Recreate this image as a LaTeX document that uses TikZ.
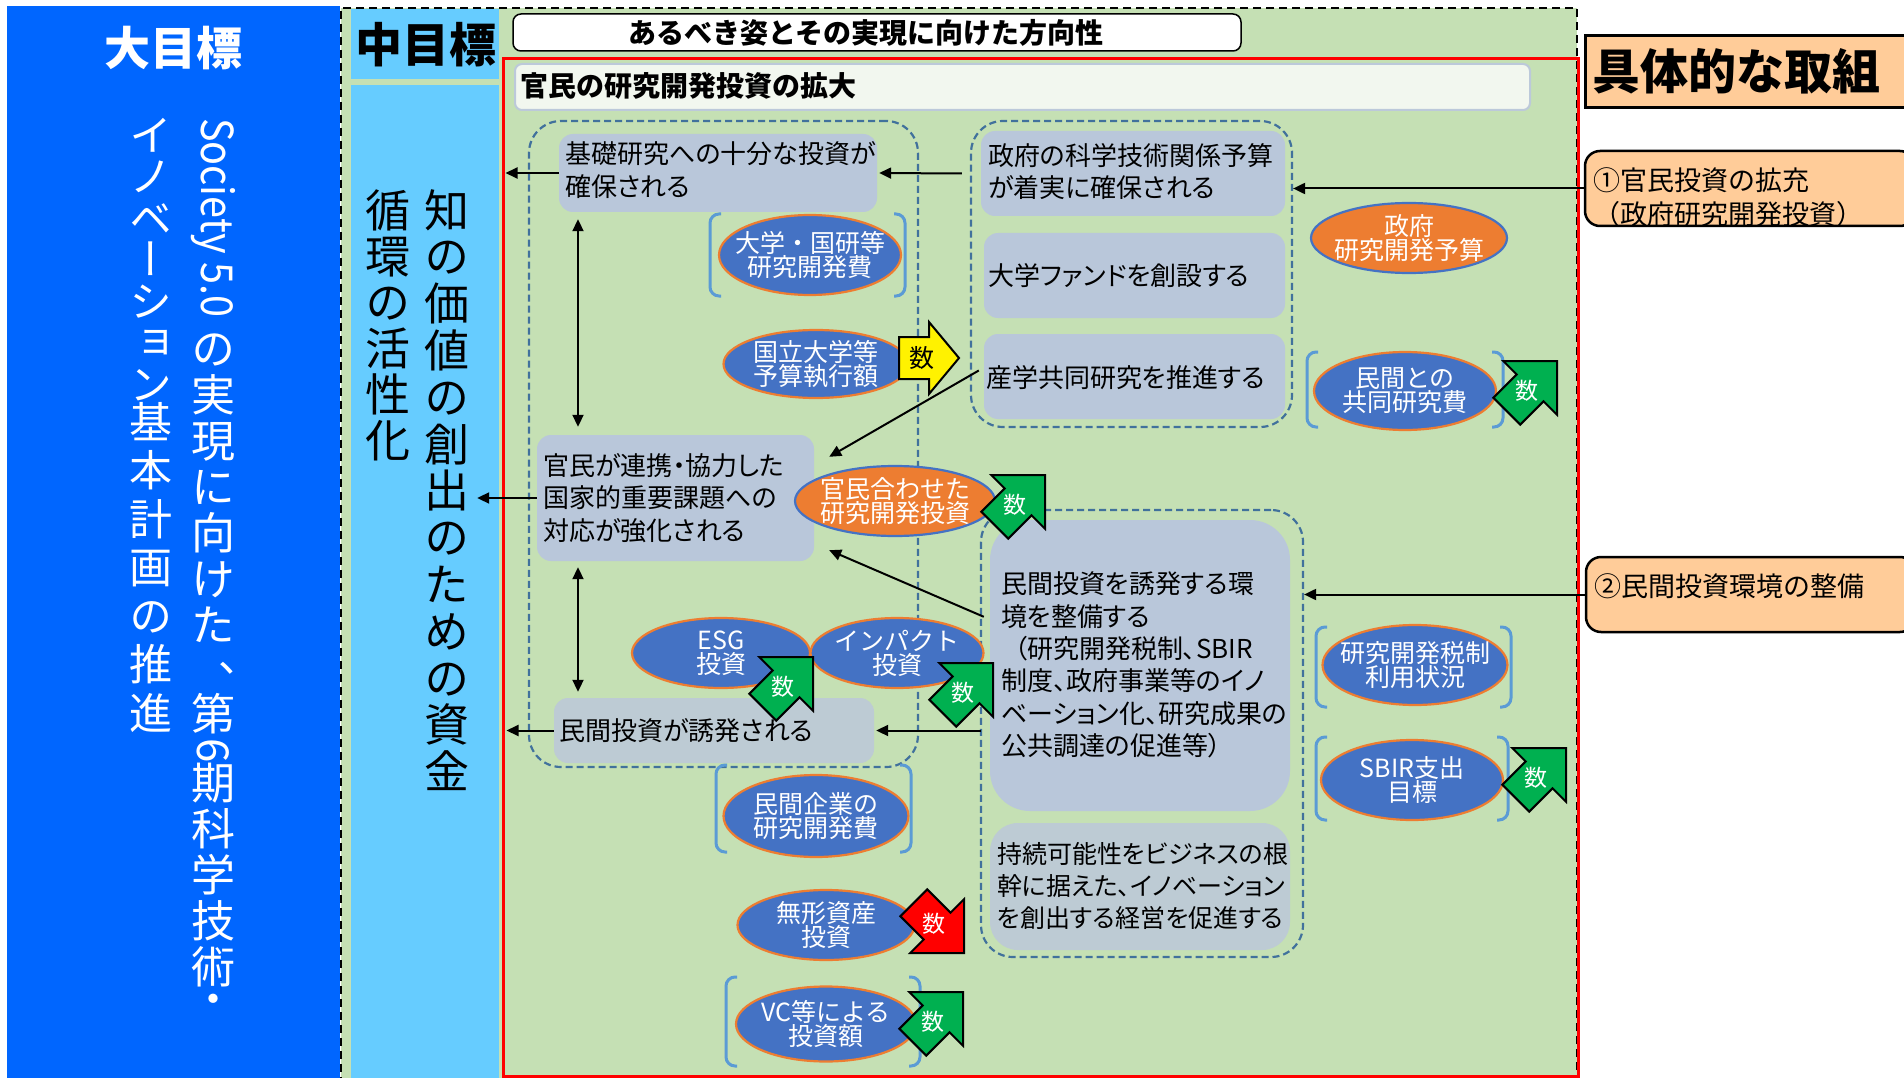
\documentclass[tikz,border=0pt]{standalone}
\usepackage{fontspec}
\setmainfont{Noto Sans CJK JP}
\newfontfamily\jpfont{Noto Sans CJK JP}
\newfontfamily\jppalt[RawFeature=+palt]{Noto Sans CJK JP}
\newfontfamily\jpvert[RawFeature=+vert]{Noto Sans CJK JP}
\usetikzlibrary{arrows.meta,fit,calc,shapes.geometric}
\definecolor{bigblue}{HTML}{0066FF}
\definecolor{ltblue}{HTML}{66CCFF}
\definecolor{bggreen}{HTML}{C5E0B4}
\definecolor{boxc}{HTML}{B9C7DA}
\definecolor{boxg}{HTML}{BDCBD4}
\definecolor{grpc}{HTML}{41719C}
\definecolor{ebl}{HTML}{4472C4}
\definecolor{eor}{HTML}{ED7D31}
\definecolor{brkc}{HTML}{5B9BD5}
\definecolor{hdrfill}{HTML}{F2F7EF}
\definecolor{hdrline}{HTML}{BCC9DA}
\definecolor{peach}{HTML}{FFCC99}
\definecolor{kgreen}{HTML}{00B050}
\tikzset{
  boxs/.style={fill=boxc, draw=none, rounded corners=14, inner sep=0},
  grp/.style={draw=grpc, line width=2.2, dash pattern=on 7pt off 4pt, rounded corners=32, inner sep=0},
  btxt/.style={font=\jppalt\fontsize{26}{32.4}\selectfont, align=left, inner sep=0, anchor=west},
  bell/.style={ellipse, fill=ebl, draw=eor, line width=2.2, inner sep=0},
  oell/.style={ellipse, fill=eor, draw=ebl, line width=2.2, inner sep=0},
  etxt/.style={font=\jpfont\fontsize{25}{24}\selectfont, align=center, inner sep=0, text=white},
  brk/.style={draw=brkc, line width=3, rounded corners=9},
  arr/.style={line width=2, -{Triangle[length=12pt,width=11pt]}},
  dbl/.style={line width=2, {Triangle[length=12pt,width=11pt]}-{Triangle[length=12pt,width=11pt]}},
  vwhite/.style={font=\jpvert\fontsize{44}{46}\selectfont, text=white, align=center, inner sep=0},
  vblack/.style={font=\jpvert\fontsize{45}{46.8}\selectfont, text=black, align=center, inner sep=0},
  peachbox/.style={fill=peach, draw=black, line width=2.5, inner sep=0},
  knum/.style={font=\jpfont\fontsize{23}{23}\selectfont, inner sep=0},
}
\newcommand\brackets[4]{%
  \draw[brk] ({#1+11},#2) -- (#1,#2) -- (#1,#4) -- ({#1+11},#4);
  \draw[brk] ({#3-11},#2) -- (#3,#2) -- (#3,#4) -- ({#3-11},#4);}
\newcommand\kazu[5]{%
  \begin{scope}[shift={#2}, rotate=#3]
    \filldraw[fill=#4, draw=black, line width=2, line join=miter] (0,0) -- (-38,38) -- (-38,19) -- (-71,19) -- (-71,-19) -- (-38,-19) -- (-38,-38) -- cycle;
    \node[knum, text=#5] (#1) at (-42,0) {数};
  \end{scope}}
\begin{document}
\begin{tikzpicture}[x=1pt,y=-1pt]
\useasboundingbox (0,0) rectangle (1904,1078);
\fill[white] (0,0) rectangle (1904,1078);
% ---- big goal panel
\node[fill=bigblue, inner sep=0, fit={(7,6) (340,1078)}] (bigpanel) {};
\node[font=\jpfont\bfseries\fontsize{46}{50}\selectfont, text=white, inner sep=0] (bigtitle) at (173,48) {大目標};
\node[font=\jpfont\fontsize{44}{46}\selectfont, text=white, rotate=-90, anchor=west, inner sep=0] (soc) at (213,118) {\scalebox{0.9}[1]{Society 5.0}};
\node[vwhite, anchor=north] (r1) at (213,334) {の\\実\\現\\に\\向\\け\\た};
\node[vwhite, anchor=north] (r2) at (213,662) {、};
\node[vwhite, anchor=north] (r3) at (213,693) {第};
\node[font=\jpfont\fontsize{44}{46}\selectfont, text=white, rotate=-90, inner sep=0] (r4) at (213,751) {6};
\node[vwhite, anchor=north] (r5) at (213,763) {期\\科\\学\\技\\術};
\node[vwhite] (r6) at (213,1005) {・};
\node[vwhite, anchor=north, font=\jpvert\fontsize{43}{41.5}\selectfont] (l1) at (151,118) {イ\\ノ\\ベ\\ー\\シ\\ョ\\ン};
\node[vwhite, anchor=north, font=\jpvert\fontsize{43}{48.5}\selectfont] (l2) at (151,402) {基\\本\\計\\画\\の\\推\\進};
% ---- middle frame
\node[fill=bggreen, draw=black, line width=2, dash pattern=on 8pt off 5pt, inner sep=0, fit={(341,8) (1577,1095)}] (midframe) {};
\node[fill=ltblue, inner sep=0, fit={(351,9) (499,79)}] (lbhead) {};
\node[fill=ltblue, inner sep=0, fit={(351,85) (499,1078)}] (lbcol) {};
\node[font=\jpfont\bfseries\fontsize{47}{50}\selectfont, inner sep=0] (midtitle) at (426,45) {中目標};
\node[vblack, anchor=north] (m1) at (447,189) {知\\の\\価\\値\\の\\創\\出\\の\\た\\め\\の\\資\\金};
\node[vblack, anchor=north, font=\jpvert\fontsize{45}{46}\selectfont] (m2) at (388,189) {循\\環\\の\\活\\性\\化};
\node[draw=black, line width=1.5, fill=white, rounded corners=8, inner sep=0, fit={(513,14) (1241,51)}] (dirbox) {};
\node[font=\jpfont\bfseries\fontsize{28}{30}\selectfont, inner sep=0] (dirtxt) at (866,33) {あるべき姿とその実現に向けた方向性};
\node[draw=red, line width=3, inner sep=0, fit={(503,59) (1578,1076)}] (redbox) {};
\node[fill=hdrfill, draw=hdrline, line width=2, rounded corners=7, inner sep=0, fit={(515,64) (1530,110)}] (hdr2) {};
\node[font=\jpfont\bfseries\fontsize{28}{30}\selectfont, inner sep=0, anchor=west] (hdr2txt) at (520,86) {官民の研究開発投資の拡大};
% ---- groups
\node[grp, fit={(529,121) (918,767)}] (grpA) {};
\node[grp, fit={(971,121) (1292,427)}] (grpB) {};
\node[grp, fit={(981,510) (1303,957)}] (grpC) {};
% ---- boxes
\node[boxs, fit={(559,134) (877,212)}] (kiso) {};
\node[btxt] (kisotxt) at (565,170) {基礎研究への十分な投資が\\確保される};
\node[boxs, fit={(981,131) (1285,216)}] (seifu) {};
\node[btxt] (seifutxt) at (988,171.5) {政府の科学技術関係予算\\が着実に確保される};
\node[boxs, fit={(984,233) (1285,318)}] (fund) {};
\node[btxt] (fundtxt) at (988,276) {大学ファンドを創設する};
\node[boxs, fit={(984,334) (1285,419)}] (sangaku) {};
\node[btxt] (sangakutxt) at (986,378) {産学共同研究を推進する};
\node[boxs, fit={(537,435) (814,561)}] (kanmin) {};
\node[btxt] (kanmintxt) at (543,498) {官民が連携・協力した\\国家的重要課題への\\対応が強化される};
\node[boxs, fill=boxg, fit={(554,698) (874,763)}] (yuhatsu) {};
\node[btxt] (yuhatsutxt) at (559,731) {民間投資が誘発される};
\node[boxs, rounded corners=40, fit={(990,520) (1290,811)}] (env) {};
\node[btxt] (envtxt) at (1001,665) {民間投資を誘発する環\\境を整備する\\\hspace*{13pt}（研究開発税制、SBIR\\制度、政府事業等のイノ\\ベーション化、研究成果の\\公共調達の促進等）};
\node[boxs, fill=boxg, rounded corners=28, fit={(990,823) (1290,950)}] (jizoku) {};
\node[btxt, font=\jppalt\fontsize{25}{32}\selectfont] (jizokutxt) at (997,886) {持続可能性をビジネスの根\\幹に据えた、イノベーション\\を創出する経営を促進する};
% ---- ellipses
\node[bell, minimum width=182, minimum height=80] (eDai) at (810,255) {};
\node[etxt] at (eDai) {大学・国研等\\研究開発費};
\brackets{710}{214}{905}{296}
\node[bell, minimum width=185, minimum height=68] (eKoku) at (816,364) {};
\node[etxt] at (eKoku) {国立大学等\\予算執行額};
\begin{scope}[shift={(959,358)}]
  \filldraw[fill=yellow, draw=black, line width=2, line join=miter] (0,0) -- (-30,-36) -- (-30,-21) -- (-60,-21) -- (-60,21) -- (-30,21) -- (-30,36) -- cycle;
  \node[font=\jpfont\fontsize{25}{25}\selectfont, inner sep=0] (kY) at (-37,0) {数};
\end{scope}
\node[oell, minimum width=200, minimum height=70] (eKanmin) at (895,501) {};
\node[etxt] at (eKanmin) {官民合わせた\\研究開発投資};
\kazu{k1}{(1045,475)}{45}{kgreen}{white}
\node[oell, minimum width=196, minimum height=70] (eSeifu) at (1409,238) {};
\node[etxt] at (eSeifu) {政府\\研究開発予算};
\node[bell, minimum width=182, minimum height=78] (eKyodo) at (1405,391) {};
\node[etxt] at (eKyodo) {民間との\\共同研究費};
\brackets{1307}{352}{1503}{427}
\kazu{k2}{(1557,361)}{45}{kgreen}{white}
\node[bell, minimum width=185, minimum height=80] (eZei) at (1415,665) {};
\node[etxt] at (eZei) {研究開発税制\\利用状況};
\brackets{1316}{627}{1511}{707}
\node[bell, minimum width=182, minimum height=80] (eSbir) at (1412,780) {};
\node[etxt] at (eSbir) {SBIR支出\\目標};
\brackets{1316}{737}{1508}{820}
\kazu{k3}{(1566,748)}{45}{kgreen}{white}
\node[bell, minimum width=178, minimum height=70] (eEsg) at (721,653) {};
\node[etxt] at (eEsg) {ESG\\投資};
\node[bell, minimum width=173, minimum height=70] (eImp) at (897,653) {};
\node[etxt] at (eImp) {インパクト\\投資};
\kazu{k4}{(813,657)}{45}{kgreen}{white}
\kazu{k5}{(993,663)}{45}{kgreen}{white}
\node[bell, minimum width=185, minimum height=82] (eMinkan) at (816,816) {};
\node[etxt] at (eMinkan) {民間企業の\\研究開発費};
\brackets{716}{765}{911}{852}
\node[bell, minimum width=177, minimum height=70] (eMukei) at (826,925) {};
\node[etxt] at (eMukei) {無形資産\\投資};
\kazu{k6}{(964,953)}{-45}{red}{white}
\node[bell, minimum width=180, minimum height=75] (eVc) at (826,1024) {};
\node[etxt] at (eVc) {VC等による\\投資額};
\brackets{726}{977}{920}{1066}
\kazu{k7}{(963,992)}{45}{kgreen}{white}
% ---- connectors
\coordinate (dx) at (578,0);
\draw[arr] ($(grpB.west |- seifu.west)+(-8,0)$) -- ($(kiso.east)+(2,0)$);
\draw[arr] (kiso.west) -- ($(redbox.west |- kiso.west)+(4,0)$);
\draw[dbl, shorten <=7pt, shorten >=8pt] (kiso.south -| dx) -- (kanmin.north -| dx);
\draw[dbl, shorten <=6pt, shorten >=6pt] (kanmin.south -| dx) -- (yuhatsu.north -| dx);
\draw[arr] (kanmin.west) -- ($(lbcol.east |- kanmin.west)+(-22,0)$);
\draw[arr] (yuhatsu.west) -- ($(redbox.west |- yuhatsu.west)+(5,0)$);
\draw[arr] ($(sangaku.west)+(-5,-6)$) -- ($(kanmin.north east)+(15,22)$);
\draw[arr] ($(env.north west)+(-6,97)$) -- ($(kanmin.south east)+(15,-11)$);
\draw[arr] ($(env.west |- yuhatsu.east)+(-9,0)$) -- ($(yuhatsu.east)+(2,0)$);
% ---- right side
\node[peachbox, line width=3, fit={(1585,36) (1912,108)}] (gutai) {};
\node[font=\jpfont\bfseries\fontsize{48}{50}\selectfont, inner sep=0, anchor=west] (gutaitxt) at (1592,71) {具体的な取組};
\node[peachbox, rounded corners=15, fit={(1585,151) (1915,226)}] (t1) {};
\node[font=\jpfont\fontsize{27}{34}\selectfont, align=left, inner sep=0, anchor=west] (t1txt) at (1593,197) {①官民投資の拡充\\（政府研究開発投資）};
\node[peachbox, rounded corners=15, fit={(1586,557) (1915,632)}] (t2) {};
\node[font=\jpfont\fontsize{27}{34}\selectfont, inner sep=0, anchor=west] (t2txt) at (1594,586) {②民間投資環境の整備};
\draw[arr] (t1.west) -- (t1.west -| grpB.east);
\draw[arr] (t2.west) -- (t2.west -| grpC.east);
\end{tikzpicture}
\end{document}
